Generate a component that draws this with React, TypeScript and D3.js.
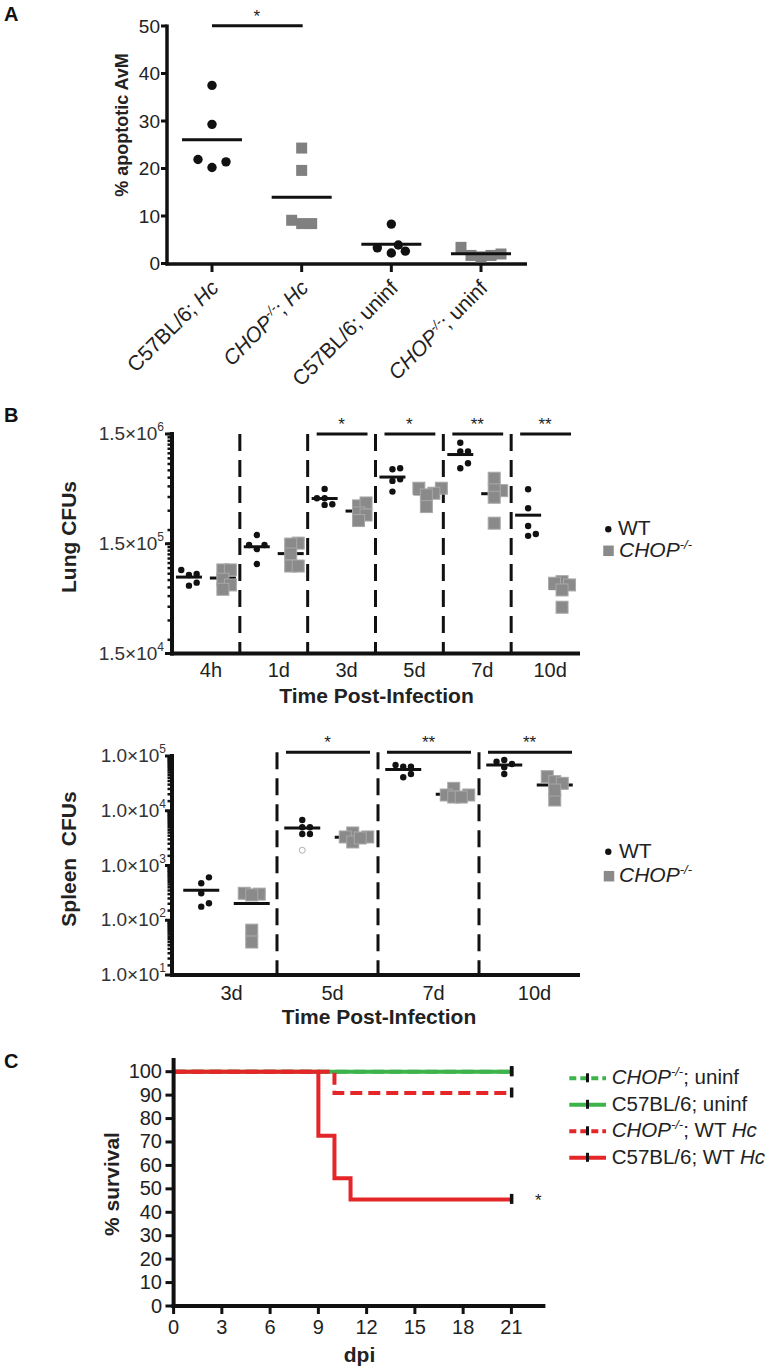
import React from 'react';
import * as d3 from 'd3';

const FONT = '"Liberation Sans", Arial, Helvetica, sans-serif';

// ---------- Panel A ----------
const groupsA = ['C57BL/6; Hc', 'CHOP-/-; Hc', 'C57BL/6; uninf', 'CHOP-/-; uninf'];
const apopC57Hc = [37.5, 29.3, 21.9, 20.2, 21.4];
const apopCHOPHc = [24.3, 19.6, 9.1, 8.4, 8.4];
const apopC57Uninf = [8.3, 3.3, 2.2, 3.9, 2.6];
const apopCHOPUninf = [1.7, 3.4, 1.4, 2.0, 1.7];
const ticksA = [0, 10, 20, 30, 40, 50];

// ---------- Panel B: lung ----------
const lungTimes = ['4h', '1d', '3d', '5d', '7d', '10d'];
const lungWT = [
  [7.79e4, 7.96e4, 8.66e4, 6.23e4, 6.63e4],
  [1.8e5, 1.46e5, 1.46e5, 1.34e5, 9.8e4],
  [4.74e5, 3.9e5, 3.9e5, 3.39e5, 3.44e5],
  [7.17e5, 7.32e5, 5.81e5, 5.61e5, 4.48e5],
  [1.25e6, 1.04e6, 1.04e6, 7.32e5, 8.13e5],
  [4.71e5, 3.16e5, 2.18e5, 1.77e5, 1.84e5],
];
const lungCHOP = [
  [8.66e4, 8.66e4, 7.12e4, 6.32e4, 5.77e4],
  [1.52e5, 1.49e5, 1.21e5, 9.4e4, 9.4e4],
  [3.32e5, 3.53e5, 2.86e5, 2.74e5, 2.44e5],
  [4.81e5, 4.81e5, 4.33e5, 4.18e5, 3.27e5],
  [5.93e5, 4.57e5, 4.64e5, 3.98e5, 2.31e5],
  [6.77e4, 6.32e4, 6.55e4, 5.69e4, 3.96e4],
];
const lungSig = ['', '', '*', '*', '**', '**'];
const lungTicks = [1.5e4, 1.5e5, 1.5e6];

// ---------- Panel B: spleen ----------
const spleenTimes = ['3d', '5d', '7d', '10d'];
const spleenWT = [
  [608, 473, 311, 177, 204],
  [6780, 5000, 5000, 3750, 3750],
  [6.38e4, 6.38e4, 6.85e4, 4.08e4, 4.69e4],
  [8.45e4, 7.87e4, 6.22e4, 4.69e4, 7.14e4],
];
const spleenWTOutlier = [null, 1900, null, null];
const spleenCHOP = [
  [311, 300, 290, 66, 40],
  [3930, 3320, 3320, 2690, 3180],
  [2.57e4, 1.94e4, 1.94e4, 1.78e4, 1.78e4],
  [4.19e4, 3.4e4, 3.17e4, 1.57e4, 2.39e4],
];
const spleenSig = ['', '*', '**', '**'];
const spleenTicks = [1e1, 1e2, 1e3, 1e4, 1e5];

// ---------- Panel C ----------
const dpiTicks = [0, 3, 6, 9, 12, 15, 18, 21];
const survTicks = [0, 10, 20, 30, 40, 50, 60, 70, 80, 90, 100];
const endDay = 21;
const chopUninfTimes = [0];
const chopUninfSurv = [100];
const c57UninfTimes = [0];
const c57UninfSurv = [100];
const chopHcTimes = [0, 10];
const chopHcSurv = [100, 90.9];
const c57HcTimes = [0, 9, 10, 11];
const c57HcSurv = [100, 72.7, 54.5, 45.5];
const legendC = ['CHOP-/-; uninf', 'C57BL/6; uninf', 'CHOP-/-; WT Hc', 'C57BL/6; WT Hc'];

const RED = '#e42629';
const GREEN = '#3cb44b';
const GRAY_A = '#808080';
const GRAY_B = '#8a8a8a';

function swarm(values: number[], y: (v: number) => number, cx: number, step: number, minDist: number) {
  const idx = values.map((_, i) => i).sort((a, b) => values[a] - values[b]);
  const placed: { x: number; y: number }[] = [];
  const out: { x: number; y: number }[] = new Array(values.length);
  const cands = [0, 1, -1, 0.5, -0.5, 1.5, -1.5, 2, -2, 2.5, -2.5, 3, -3];
  for (const i of idx) {
    const py = y(values[i]);
    let px = cx;
    for (const k of cands) {
      const tx = cx + k * step;
      if (placed.every((p) => Math.hypot(p.x - tx, p.y - py) >= minDist)) {
        px = tx;
        break;
      }
    }
    placed.push({ x: px, y: py });
    out[i] = { x: px, y: py };
  }
  return out;
}

function rich(s: string, supSize: number, supDy: number) {
  const parts = s.split(/(CHOP-\/-|Hc)/).filter((p) => p.length > 0);
  const out: React.ReactNode[] = [];
  let pending = 0;
  parts.forEach((p, i) => {
    const dy = pending ? pending : undefined;
    pending = 0;
    if (p === 'CHOP-/-') {
      out.push(<tspan key={i + 'a'} fontStyle="italic" dy={dy}>CHOP</tspan>);
      out.push(<tspan key={i + 'b'} fontStyle="italic" fontSize={supSize} dy={-supDy}>-/-</tspan>);
      pending = supDy;
    } else if (p === 'Hc') {
      out.push(<tspan key={i} fontStyle="italic" dy={dy}>Hc</tspan>);
    } else {
      out.push(<tspan key={i} dy={dy}>{p}</tspan>);
    }
  });
  return out;
}

function expLabel(v: number) {
  const e = Math.floor(Math.log10(v) + 1e-9);
  const m = v / Math.pow(10, e);
  return { m: m.toFixed(1) + '×10', e: String(e) };
}

function Square({ x, y, s, fill, stroke }: { x: number; y: number; s: number; fill: string; stroke?: string }) {
  return <rect x={x - s / 2} y={y - s / 2} width={s} height={s} fill={fill} stroke={stroke || 'none'} strokeWidth={1} />;
}

export default function App() {
  // ---------- Panel A scales ----------
  const yA = d3.scaleLinear().domain([0, 50]).range([263.5, 26]);
  const xA = d3.scalePoint<string>().domain(groupsA).range([212, 481]);
  const seriesA = [apopC57Hc, apopCHOPHc, apopC57Uninf, apopCHOPUninf];

  // ---------- Lung scales ----------
  const yL = d3.scaleLog().domain([1.5e4, 1.5e6]).range([653.5, 434]);
  const xL = d3.scaleBand<string>().domain(lungTimes).range([172, 579]);
  const bwL = xL.bandwidth();
  const lungMinor: number[] = [];
  for (let k = 2; k <= 15; k++) lungMinor.push(k * 1e4);
  for (let k = 2; k <= 15; k++) lungMinor.push(k * 1e5);

  // ---------- Spleen scales ----------
  const yS = d3.scaleLog().domain([10, 1e5]).range([975, 756]);
  const xS = d3.scaleBand<string>().domain(spleenTimes).range([176, 580]);
  const bwS = xS.bandwidth();
  const spleenMinor: number[] = [];
  for (let d = 1; d <= 4; d++) for (let k = 1.5; k < 10; k += 0.5) spleenMinor.push(k * Math.pow(10, d));

  // ---------- Panel C scales ----------
  const xC = d3.scaleLinear().domain([0, 21]).range([173.6, 511.4]);
  const yC = d3.scaleLinear().domain([0, 100]).range([1306, 1071.7]);
  const stepLine = d3
    .line<[number, number]>()
    .x((d) => xC(d[0]))
    .y((d) => yC(d[1]))
    .curve(d3.curveStepAfter);
  const mk = (t: number[], s: number[]): [number, number][] => {
    const pts: [number, number][] = t.map((tt, i) => [tt, s[i]]);
    pts.push([endDay, s[s.length - 1]]);
    return pts;
  };
  const curves = [
    { pts: mk(chopUninfTimes, chopUninfSurv), color: GREEN, dash: '12,6' },
    { pts: mk(c57UninfTimes, c57UninfSurv), color: GREEN, dash: null },
    { pts: mk(chopHcTimes, chopHcSurv), color: RED, dash: '12,6' },
    { pts: mk(c57HcTimes, c57HcSurv), color: RED, dash: null },
  ];

  const renderGroupPanel = (
    times: string[],
    wt: number[][],
    chop: number[][],
    sig: string[],
    xs: d3.ScaleBand<string>,
    bw: number,
    ys: d3.ScaleLogarithmic<number, number>,
    top: number,
    bottom: number,
    halfMean: number,
    outliers: (number | null)[] | null
  ) => (
    <g>
      {times.map((t, i) =>
        i >= 1 ? (
          <line key={'sep' + i} x1={xs(t)!} x2={xs(t)!} y1={top} y2={bottom} stroke="#111" strokeWidth={3} strokeDasharray="17,9" />
        ) : null
      )}
      {times.map((t, i) => {
        const x0 = xs(t)!;
        const cW = x0 + bw * 0.25;
        const cC = x0 + bw * 0.75;
        const ptsW = swarm(wt[i], (v) => ys(v), cW, 7.7, 6.6);
        const ptsC = swarm(chop[i], (v) => ys(v), cC, 7.5, 7);
        const mW = ys(d3.mean(wt[i])!);
        const mC = ys(d3.mean(chop[i])!);
        return (
          <g key={t}>
            <line x1={cC - halfMean} x2={cC + halfMean} y1={mC} y2={mC} stroke="#111" strokeWidth={3} />
            {ptsC.map((p, j) => (
              <Square key={j} x={p.x} y={p.y} s={12} fill={GRAY_B} stroke="#a8a8a8" />
            ))}
            {ptsW.map((p, j) => (
              <circle key={j} cx={p.x} cy={p.y} r={3.2} fill="#111" />
            ))}
            <line x1={cW - halfMean} x2={cW + halfMean} y1={mW} y2={mW} stroke="#111" strokeWidth={3} />
            {outliers && outliers[i] != null ? (
              <circle cx={cW} cy={ys(outliers[i] as number)} r={3} fill="#fff" stroke="#b0b0b0" strokeWidth={1} />
            ) : null}
            {sig[i] ? (
              <g>
                <line x1={x0 + 9} x2={x0 + bw - 8} y1={top} y2={top} stroke="#111" strokeWidth={3} />
                <text x={x0 + bw / 2} y={top - 4.5} textAnchor="middle" fontSize={17} fill="#222">
                  {sig[i]}
                </text>
              </g>
            ) : null}
          </g>
        );
      })}
    </g>
  );

  return (
    <svg
      width={776}
      height={1371}
      viewBox="0 0 776 1371"
      style={{ position: 'absolute', left: 0, top: 0, background: '#fff' }}
      fontFamily={FONT}
    >
      <rect x={0} y={0} width={776} height={1371} fill="#fff" />

      {/* ================= Panel A ================= */}
      <text x={4} y={21} fontSize={20} fontWeight="bold" fill="#111">A</text>
      <text transform="translate(128,125) rotate(-90)" textAnchor="middle" fontSize={18} fontWeight="bold" fill="#222">
        % apoptotic AvM
      </text>
      {ticksA.map((t) => (
        <g key={t}>
          <line x1={161} x2={167} y1={yA(t)} y2={yA(t)} stroke="#111" strokeWidth={3} />
          <text x={160} y={yA(t) + 6.5} textAnchor="end" fontSize={19} fill="#222">
            {t}
          </text>
        </g>
      ))}
      <line x1={167} x2={167} y1={24.5} y2={265.5} stroke="#111" strokeWidth={3.5} />
      <line x1={165.5} x2={527} y1={264} y2={264} stroke="#111" strokeWidth={3.5} />
      {groupsA.map((g, i) => {
        const x = xA(g)!;
        const vals = seriesA[i];
        const isSq = i % 2 === 1;
        const pts = isSq ? swarm(vals, (v) => yA(v), x, 10, 10) : swarm(vals, (v) => yA(v), x, 14, 9.3);
        const m = yA(d3.mean(vals)!);
        return (
          <g key={g}>
            <line x1={x} x2={x} y1={264} y2={272} stroke="#111" strokeWidth={3} />
            {pts.map((p, j) =>
              isSq ? (
                <Square key={j} x={p.x} y={p.y} s={11} fill={GRAY_A} />
              ) : (
                <circle key={j} cx={p.x} cy={p.y} r={4.7} fill="#111" />
              )
            )}
            <line x1={x - 30} x2={x + 30} y1={m} y2={m} stroke="#111" strokeWidth={3} />
            <text transform={`translate(${x + 8},289) rotate(-45)`} textAnchor="end" fontSize={21} fill="#222">
              {rich(g, 13, 8)}
            </text>
          </g>
        );
      })}
      <line x1={xA(groupsA[0])!} x2={xA(groupsA[1])! + 1} y1={25.7} y2={25.7} stroke="#111" strokeWidth={3} />
      <text x={(xA(groupsA[0])! + xA(groupsA[1])!) / 2} y={21.5} textAnchor="middle" fontSize={17} fill="#222">*</text>

      {/* ================= Panel B: Lung ================= */}
      <text x={4} y={422} fontSize={20} fontWeight="bold" fill="#111">B</text>
      <text transform="translate(76,537) rotate(-90)" textAnchor="middle" fontSize={21} fontWeight="bold" fill="#222">
        Lung CFUs
      </text>
      {lungMinor.map((v) => (
        <line key={v} x1={167.5} x2={172} y1={yL(v)} y2={yL(v)} stroke="#111" strokeWidth={2.5} />
      ))}
      {lungTicks.map((v) => {
        const l = expLabel(v);
        return (
          <g key={v}>
            <line x1={165} x2={172} y1={yL(v)} y2={yL(v)} stroke="#111" strokeWidth={3} />
            <text x={164} y={yL(v) + 6} textAnchor="end" fontSize={19} fill="#333">
              <tspan>{l.m}</tspan>
              <tspan fontSize={12} dy={-9}>{l.e}</tspan>
            </text>
          </g>
        );
      })}
      <line x1={172} x2={172} y1={432} y2={655.5} stroke="#111" strokeWidth={4} />
      <line x1={170} x2={580} y1={653.5} y2={653.5} stroke="#111" strokeWidth={4} />
      {lungTimes.map((t) => (
        <text key={t} x={xL(t)! + bwL / 2 + 5} y={677} textAnchor="middle" fontSize={20} fill="#222">
          {t}
        </text>
      ))}
      <text x={376.5} y={703} textAnchor="middle" fontSize={21} fontWeight="bold" fill="#222">
        Time Post-Infection
      </text>
      {renderGroupPanel(lungTimes, lungWT, lungCHOP, lungSig, xL, bwL, yL, 434, 653, 13, null)}
      <circle cx={608.3} cy={529.3} r={3.2} fill="#111" />
      <text x={618} y={535} fontSize={21} fill="#222">WT</text>
      <Square x={608.5} y={550.8} s={10.5} fill={GRAY_B} />
      <text x={619} y={557.3} fontSize={21} fill="#222">{rich('CHOP-/-', 13, 8)}</text>

      {/* ================= Panel B: Spleen ================= */}
      <text transform="translate(76,859) rotate(-90)" textAnchor="middle" fontSize={21} fontWeight="bold" fill="#222" style={{ whiteSpace: 'pre' }}>
        {'Spleen  CFUs'}
      </text>
      {spleenMinor.map((v) => (
        <line key={v} x1={167.5} x2={172} y1={yS(v)} y2={yS(v)} stroke="#111" strokeWidth={2.5} />
      ))}
      {spleenTicks.map((v) => {
        const l = expLabel(v);
        return (
          <g key={v}>
            <line x1={165} x2={172} y1={yS(v)} y2={yS(v)} stroke="#111" strokeWidth={3} />
            <text x={166} y={yS(v) + 6} textAnchor="end" fontSize={19} fill="#333">
              <tspan>{l.m}</tspan>
              <tspan fontSize={12} dy={-9}>{l.e}</tspan>
            </text>
          </g>
        );
      })}
      <line x1={172} x2={172} y1={754} y2={977} stroke="#111" strokeWidth={4} />
      <line x1={170} x2={580} y1={975} y2={975} stroke="#111" strokeWidth={4} />
      {spleenTimes.map((t) => (
        <text key={t} x={xS(t)! + bwS / 2 + 5} y={1000} textAnchor="middle" fontSize={20} fill="#222">
          {t}
        </text>
      ))}
      <text x={379} y={1023.5} textAnchor="middle" fontSize={21} fontWeight="bold" fill="#222">
        Time Post-Infection
      </text>
      {renderGroupPanel(spleenTimes, spleenWT, spleenCHOP, spleenSig, xS, bwS, yS, 752.3, 975, 18, spleenWTOutlier)}
      <circle cx={608.3} cy={851.7} r={3.2} fill="#111" />
      <text x={619} y={858.3} fontSize={21} fill="#222">WT</text>
      <Square x={609} y={876.2} s={10.5} fill={GRAY_B} />
      <text x={619} y={881.7} fontSize={21} fill="#222">{rich('CHOP-/-', 13, 8)}</text>

      {/* ================= Panel C ================= */}
      <text x={4} y={1068} fontSize={20} fontWeight="bold" fill="#111">C</text>
      <text transform="translate(119,1184) rotate(-90)" textAnchor="middle" fontSize={21} fontWeight="bold" fill="#222">
        % survival
      </text>
      {survTicks.map((t) => (
        <g key={t}>
          <line x1={165.5} x2={173.6} y1={yC(t)} y2={yC(t)} stroke="#111" strokeWidth={3} />
          <text x={162} y={yC(t) + 6.5} textAnchor="end" fontSize={20} fill="#222">
            {t}
          </text>
        </g>
      ))}
      {dpiTicks.map((t) => (
        <g key={t}>
          <line x1={xC(t)} x2={xC(t)} y1={1306} y2={1314} stroke="#111" strokeWidth={3} />
          <text x={xC(t)} y={1333.5} textAnchor="middle" fontSize={20} fill="#222">
            {t}
          </text>
        </g>
      ))}
      <text x={359.5} y={1361.5} textAnchor="middle" fontSize={21} fontWeight="bold" fill="#222">dpi</text>
      {curves.map((c, i) => (
        <path
          key={i}
          d={stepLine(c.pts) || ''}
          fill="none"
          stroke={c.color}
          strokeWidth={4}
          strokeDasharray={c.dash || undefined}
        />
      ))}
      {curves.map((c, i) => {
        const last = c.pts[c.pts.length - 1];
        return <rect key={'e' + i} x={xC(last[0]) - 1.5} y={yC(last[1]) - 5.5} width={3.5} height={10} fill="#111" />;
      })}
      <line x1={173.6} x2={173.6} y1={1058} y2={1308} stroke="#111" strokeWidth={4} />
      <line x1={171.6} x2={545.4} y1={1306} y2={1306} stroke="#111" strokeWidth={4} />
      <text x={538.4} y={1206} textAnchor="middle" fontSize={17} fill="#222">*</text>
      {legendC.map((l, i) => {
        const y = 1078.3 + i * 26.5;
        const c = curves[i];
        return (
          <g key={l}>
            <line x1={569.3} x2={606} y1={y} y2={y} stroke={c.color} strokeWidth={4} strokeDasharray={c.dash ? '7,4' : undefined} />
            <rect x={586} y={y - 5} width={3} height={9} fill="#111" />
            <text x={611.7} y={y + 6} fontSize={20.5} fill="#222">
              {rich(l, 13, 8)}
            </text>
          </g>
        );
      })}
    </svg>
  );
}
